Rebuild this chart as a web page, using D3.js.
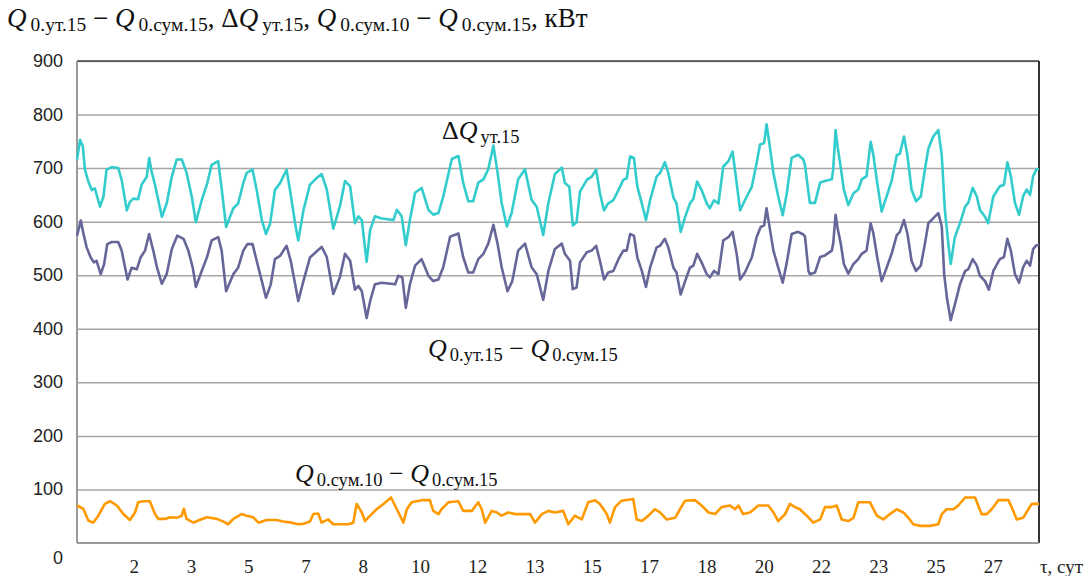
<!DOCTYPE html>
<html>
<head>
<meta charset="utf-8">
<script src="https://cdn.jsdelivr.net/npm/d3@7"></script>
<style>
  body { margin: 0; background: #fff; }
  svg { display: block; }
  .grid line { stroke: #a6a6a6; stroke-width: 1.5; }
  .line { fill: none; stroke-width: 2.6; stroke-linejoin: round; }
  .lbl { font-family: "Liberation Serif", serif; fill: #111; }
  .ylab { font-family: "Liberation Sans", sans-serif; font-size: 18px; fill: #222; }
  .xlab { font-family: "Liberation Serif", serif; font-size: 19px; fill: #222; }
</style>
</head>
<body>
<div id="chart"></div>
<script>
// time in days, value in kW
const dQ = [[0,716],[0.09,753],[0.17,741],[0.23,697],[0.33,675],[0.43,659],[0.52,662],[0.67,628],[0.77,647],[0.86,697],[1.01,702],[1.20,700],[1.30,678],[1.45,621],[1.54,637],[1.64,643],[1.78,642],[1.88,669],[2.03,684],[2.10,719],[2.17,694],[2.27,669],[2.47,609],[2.61,634],[2.76,684],[2.90,716],[3.05,716],[3.19,691],[3.34,647],[3.46,599],[3.63,640],[3.78,669],[3.92,706],[4.11,713],[4.21,662],[4.34,590],[4.55,625],[4.69,634],[4.84,672],[4.94,691],[5.11,697],[5.23,659],[5.38,603],[5.50,577],[5.62,596],[5.76,659],[5.91,672],[6.10,697],[6.20,659],[6.35,596],[6.44,565],[6.59,621],[6.78,669],[6.95,680],[7.12,689],[7.27,660],[7.46,587],[7.65,628],[7.80,676],[7.95,666],[8.09,597],[8.19,610],[8.29,603],[8.43,525],[8.53,584],[8.67,610],[8.87,606],[9.21,603],[9.31,622],[9.45,610],[9.57,556],[9.69,603],[9.84,654],[10.03,663],[10.23,622],[10.37,613],[10.52,616],[10.66,647],[10.91,717],[11.10,723],[11.24,673],[11.39,638],[11.53,638],[11.68,673],[11.83,679],[11.97,698],[12.12,742],[12.24,692],[12.36,635],[12.51,591],[12.65,616],[12.84,679],[13.04,698],[13.23,641],[13.38,628],[13.57,575],[13.72,635],[13.91,689],[14.11,701],[14.20,672],[14.33,665],[14.43,593],[14.54,599],[14.64,656],[14.84,678],[14.98,684],[15.11,697],[15.22,653],[15.34,621],[15.46,634],[15.61,640],[15.76,659],[15.90,678],[16.00,681],[16.10,722],[16.21,719],[16.31,665],[16.44,634],[16.56,603],[16.68,640],[16.87,684],[16.97,691],[17.11,711],[17.21,691],[17.36,645],[17.45,634],[17.57,581],[17.70,609],[17.84,634],[17.94,643],[18.05,675],[18.18,659],[18.33,634],[18.42,625],[18.54,640],[18.67,634],[18.81,703],[18.96,713],[19.08,731],[19.20,672],[19.30,621],[19.44,640],[19.64,665],[19.78,709],[19.88,744],[20.00,747],[20.07,782],[20.15,747],[20.27,691],[20.41,647],[20.54,612],[20.66,653],[20.80,719],[20.99,725],[21.14,716],[21.19,705],[21.33,635],[21.48,635],[21.63,673],[21.77,676],[21.97,679],[22.01,698],[22.08,771],[22.14,739],[22.23,701],[22.32,660],[22.45,631],[22.60,653],[22.74,660],[22.84,679],[22.98,685],[23.10,749],[23.18,724],[23.29,673],[23.42,619],[23.57,648],[23.71,676],[23.86,724],[23.95,727],[24.07,759],[24.17,724],[24.29,660],[24.42,638],[24.56,647],[24.68,698],[24.78,736],[24.92,759],[25.07,771],[25.17,724],[25.26,622],[25.36,559],[25.43,521],[25.55,571],[25.70,597],[25.85,628],[25.94,635],[26.07,663],[26.19,647],[26.28,622],[26.43,609],[26.52,597],[26.67,647],[26.86,666],[26.98,669],[27.08,711],[27.18,685],[27.30,635],[27.42,613],[27.54,648],[27.64,660],[27.74,650],[27.83,685],[27.93,698],[28.0,698]];

const qDiff15 = [[0,574],[0.11,602],[0.18,580],[0.28,552],[0.40,533],[0.49,524],[0.57,527],[0.69,502],[0.79,521],[0.88,558],[1.01,562],[1.20,562],[1.30,546],[1.47,492],[1.59,514],[1.74,511],[1.85,533],[1.98,546],[2.10,577],[2.22,546],[2.33,514],[2.47,484],[2.61,502],[2.76,549],[2.92,574],[3.10,568],[3.24,546],[3.37,514],[3.46,478],[3.63,508],[3.78,533],[3.92,565],[4.11,571],[4.21,546],[4.34,470],[4.55,502],[4.69,514],[4.84,546],[4.96,558],[5.11,558],[5.23,527],[5.38,489],[5.50,458],[5.64,483],[5.76,530],[5.91,536],[6.10,555],[6.22,527],[6.35,483],[6.44,452],[6.59,489],[6.78,533],[6.95,543],[7.12,553],[7.27,534],[7.46,465],[7.65,496],[7.80,540],[7.95,527],[8.09,473],[8.19,480],[8.29,470],[8.43,420],[8.53,451],[8.67,483],[8.87,486],[9.26,483],[9.35,499],[9.47,496],[9.57,439],[9.69,483],[9.84,518],[10.03,530],[10.23,499],[10.37,489],[10.52,492],[10.66,515],[10.86,572],[11.10,578],[11.24,534],[11.39,505],[11.53,505],[11.68,530],[11.83,540],[11.97,559],[12.12,594],[12.24,559],[12.36,515],[12.53,470],[12.67,489],[12.84,546],[13.04,559],[13.23,515],[13.38,502],[13.57,454],[13.72,508],[13.91,549],[14.11,559],[14.20,540],[14.35,527],[14.43,474],[14.54,477],[14.64,524],[14.84,543],[14.98,546],[15.11,555],[15.22,527],[15.34,492],[15.46,505],[15.61,508],[15.76,530],[15.90,546],[16.00,546],[16.10,577],[16.21,574],[16.31,533],[16.44,508],[16.56,478],[16.68,514],[16.87,552],[16.97,555],[17.11,568],[17.21,552],[17.36,514],[17.45,505],[17.57,464],[17.70,489],[17.84,514],[17.94,518],[18.05,540],[18.18,524],[18.33,502],[18.42,496],[18.54,508],[18.67,502],[18.81,565],[18.96,571],[19.08,581],[19.20,540],[19.30,492],[19.44,505],[19.64,533],[19.78,571],[19.90,590],[20.00,593],[20.07,625],[20.15,593],[20.27,546],[20.41,514],[20.54,486],[20.66,524],[20.80,577],[20.99,581],[21.14,576],[21.19,572],[21.29,508],[21.33,502],[21.48,505],[21.63,534],[21.77,537],[21.97,546],[22.01,559],[22.08,613],[22.14,587],[22.23,559],[22.32,521],[22.45,503],[22.60,521],[22.74,530],[22.84,540],[22.98,546],[23.10,597],[23.18,578],[23.29,534],[23.42,489],[23.57,515],[23.71,540],[23.86,575],[23.95,581],[24.07,603],[24.17,578],[24.29,527],[24.42,508],[24.56,518],[24.68,559],[24.78,597],[24.92,606],[25.07,616],[25.17,591],[25.24,502],[25.32,458],[25.43,416],[25.55,445],[25.70,483],[25.85,508],[25.94,511],[26.07,530],[26.19,518],[26.28,499],[26.43,489],[26.54,473],[26.67,508],[26.86,530],[26.98,534],[27.08,568],[27.18,546],[27.30,502],[27.42,486],[27.54,515],[27.64,527],[27.74,518],[27.83,549],[27.93,556],[28.0,556]];

const qSum10 = [[0,70],[0.18,64],[0.33,42],[0.47,38],[0.62,51],[0.81,73],[0.96,78],[1.16,70],[1.35,54],[1.54,43],[1.69,57],[1.78,76],[1.93,78],[2.12,78],[2.27,54],[2.37,45],[2.56,45],[2.71,48],[2.90,47],[3.05,51],[3.11,64],[3.19,45],[3.39,38],[3.53,42],[3.78,48],[4.07,45],[4.26,40],[4.40,35],[4.55,45],[4.79,54],[4.94,51],[5.13,48],[5.28,38],[5.52,43],[5.81,43],[6.00,40],[6.25,38],[6.44,35],[6.59,36],[6.78,40],[6.88,54],[7.02,55],[7.12,38],[7.31,44],[7.46,35],[7.90,35],[8.04,38],[8.14,73],[8.29,57],[8.38,41],[8.53,51],[8.72,63],[8.92,73],[9.14,85],[9.31,63],[9.50,38],[9.60,63],[9.74,76],[10.03,80],[10.27,80],[10.37,60],[10.52,54],[10.61,63],[10.81,76],[11.10,78],[11.24,60],[11.49,60],[11.68,76],[11.78,63],[11.88,38],[12.07,60],[12.22,57],[12.36,51],[12.55,57],[12.75,54],[12.99,54],[13.19,54],[13.33,38],[13.53,54],[13.72,60],[13.91,57],[14.15,60],[14.30,35],[14.49,51],[14.69,44],[14.88,76],[15.08,80],[15.22,73],[15.42,54],[15.51,38],[15.66,67],[15.85,79],[16.19,82],[16.29,44],[16.44,41],[16.63,51],[16.82,63],[16.97,57],[17.16,44],[17.41,47],[17.55,63],[17.70,79],[17.99,80],[18.18,70],[18.38,57],[18.57,54],[18.76,67],[19.01,70],[19.15,63],[19.25,70],[19.39,54],[19.59,57],[19.83,70],[20.12,70],[20.27,57],[20.41,41],[20.61,54],[20.75,73],[20.90,67],[21.04,63],[21.24,51],[21.43,38],[21.63,44],[21.77,67],[21.97,67],[22.11,70],[22.26,44],[22.45,41],[22.60,47],[22.74,76],[23.08,76],[23.28,51],[23.47,44],[23.66,54],[23.86,63],[24.05,57],[24.20,47],[24.34,35],[24.54,32],[24.83,32],[25.07,35],[25.17,54],[25.31,63],[25.51,63],[25.65,70],[25.85,85],[26.14,85],[26.23,70],[26.33,54],[26.48,54],[26.62,63],[26.82,80],[27.11,80],[27.25,60],[27.35,44],[27.54,47],[27.69,63],[27.79,73],[28.0,73]];

const yTicks = [100, 200, 300, 400, 500, 600, 700, 800, 900];
const xTickLabels = ["2","3","5","7","8","10","12","13","15","17","18","20","22","23","25","27"];
const xTickStepHours = 40;

const W = 1085, H = 576;
const svg = d3.select("#chart").append("svg")
    .attr("width", W).attr("height", H);

const x = d3.scaleLinear().domain([0, 28]).range([77, 1039]);
const y = d3.scaleLinear().domain([0, 900]).range([543, 61]);

// gridlines
svg.append("g")
    .attr("class", "grid")
    .attr("transform", `translate(${x(0)},0)`)
    .call(d3.axisLeft(y).tickValues(yTicks).tickSize(-(x(28) - x(0))).tickFormat(""))
    .call(g => g.select(".domain").remove());

// frame: top and right dark, left and bottom grey
svg.append("line").attr("x1", x(0)).attr("x2", x(28)).attr("y1", y(900)).attr("y2", y(900))
    .attr("stroke", "#444").attr("stroke-width", 1.5);
svg.append("line").attr("x1", x(28)).attr("x2", x(28)).attr("y1", y(900)).attr("y2", y(0))
    .attr("stroke", "#333").attr("stroke-width", 2);
svg.append("line").attr("x1", x(0)).attr("x2", x(0)).attr("y1", y(900)).attr("y2", y(0))
    .attr("stroke", "#9a9a9a").attr("stroke-width", 2);
svg.append("line").attr("x1", x(0)).attr("x2", x(28)).attr("y1", y(0)).attr("y2", y(0))
    .attr("stroke", "#9a9a9a").attr("stroke-width", 2);

// y labels
svg.append("g").selectAll("text")
    .data(yTicks)
    .join("text")
    .attr("class", "ylab")
    .attr("x", 63)
    .attr("y", d => y(d) + 6)
    .attr("text-anchor", "end")
    .text(d => d);
svg.append("text").attr("class", "ylab")
    .attr("x", 63).attr("y", y(0) + 21)
    .attr("text-anchor", "end").text("0");

// x labels
svg.append("g").selectAll("text")
    .data(xTickLabels)
    .join("text")
    .attr("class", "xlab")
    .attr("x", (d, i) => x((i + 1) * xTickStepHours / 24))
    .attr("y", 573)
    .attr("text-anchor", "middle")
    .text(d => d);
svg.append("text").attr("class", "xlab")
    .attr("x", 1083).attr("y", 573)
    .attr("text-anchor", "end").text("τ, сут");

// lines
const line = d3.line().x(d => x(d[0])).y(d => y(d[1]));
const series = [
    { data: qSum10, color: "#ff9900" },
    { data: qDiff15, color: "#666699" },
    { data: dQ, color: "#33cccc" }
];
svg.append("g").selectAll("path")
    .data(series)
    .join("path")
    .attr("class", "line")
    .attr("stroke", d => d.color)
    .attr("d", d => line(d.data));

// labels with subscripts
function label(px, py, parts, size, subSize, gap) {
    const t = svg.append("text").attr("class", "lbl")
        .attr("x", px).attr("y", py)
        .attr("font-size", size);
    let shifted = false;
    parts.forEach(p => {
        const s = t.append("tspan").text(p.t);
        if (p.sub) {
            s.attr("font-size", subSize).attr("dx", gap);
            if (!shifted) { s.attr("dy", 4); shifted = true; }
        } else {
            if (shifted) { s.attr("dy", -4); shifted = false; }
            if (p.q) s.attr("font-style", "italic");
        }
    });
    return t;
}

label(7, 27, [
    { t: "Q", q: true }, { t: "0.ут.15", sub: true }, { t: " − " },
    { t: "Q", q: true }, { t: "0.сум.15", sub: true }, { t: ", Δ" },
    { t: "Q", q: true }, { t: "ут.15", sub: true }, { t: ", " },
    { t: "Q", q: true }, { t: "0.сум.10", sub: true }, { t: " − " },
    { t: "Q", q: true }, { t: "0.сум.15", sub: true }, { t: ", кВт" }
], 27, 19.5, 4);

label(442, 139, [
    { t: "Δ" }, { t: "Q", q: true }, { t: "ут.15", sub: true }
], 26, 18.5, 3);

label(428, 357, [
    { t: "Q", q: true }, { t: "0.ут.15", sub: true }, { t: " − " },
    { t: "Q", q: true }, { t: "0.сум.15", sub: true }
], 26, 18.5, 3);

label(295, 482, [
    { t: "Q", q: true }, { t: "0.сум.10", sub: true }, { t: " − " },
    { t: "Q", q: true }, { t: "0.сум.15", sub: true }
], 26, 18.5, 3);
</script>
</body>
</html>
